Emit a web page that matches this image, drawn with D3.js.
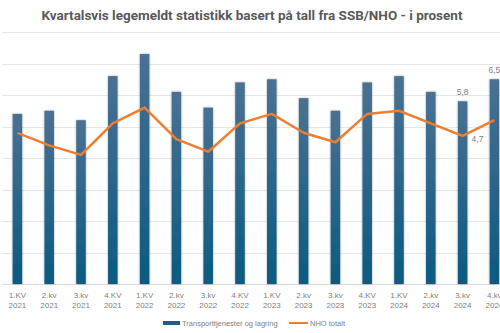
<!DOCTYPE html>
<html lang="no">
<head>
<meta charset="UTF-8">
<script src="https://cdn.jsdelivr.net/npm/d3@7"></script>
<style>
    body { margin: 0; background: #fff; }
    .title {
        font-family: "Liberation Sans Narrow", "Roboto", sans-serif;
        font-weight: 700;
        font-size: 13.5px;
        fill: #595959;
        text-anchor: middle;
    }
    .grid line { stroke: #e6e6e6; stroke-width: 1px; }
    .axis text, .legend text, .lbl {
        font-family: "Liberation Sans", Arial, sans-serif;
        fill: #808080;
    }
    .axis text { font-size: 8px; text-anchor: middle; }
    .legend text { font-size: 7.5px; }
    .lbl { font-size: 8.5px; }
</style>
</head>
<body>
<svg id="chart" width="500" height="333"></svg>
<script>
    // kvartaler
    const quarters = ["1.KV", "2.kv", "3.kv", "4.KV", "1.KV", "2.kv", "3.kv", "4.KV",
                      "1.KV", "2.kv", "3.kv", "4.KV", "1.KV", "2.kv", "3.kv", "4.kv"];
    const years = ["2021", "2021", "2021", "2021", "2022", "2022", "2022", "2022",
                   "2023", "2023", "2023", "2023", "2024", "2024", "2024", "2024"];
    // Transporttjenester og lagring (stolper)
    const transport = [5.4, 5.5, 5.2, 6.6, 7.3, 6.1, 5.6, 6.4,
                       6.5, 5.9, 5.5, 6.4, 6.6, 6.1, 5.8, 6.5];
    // NHO totalt (linje)
    const nho = [4.8, 4.4, 4.1, 5.1, 5.6, 4.6, 4.2, 5.1,
                 5.4, 4.8, 4.5, 5.4, 5.5, 5.1, 4.7, 5.2];
    const yTicks = [0, 1, 2, 3, 4, 5, 6, 7, 8];

    const svg = d3.select("#chart");
    const keys = quarters.map((q, i) => i);

    const x = d3.scaleBand().domain(keys).range([1.5, 510.3])
        .paddingInner(0.7).paddingOuter(0.35);
    const y = d3.scaleLinear().domain([0, 8]).range([284, 32]);

    // gradient for stolpene
    const defs = svg.append("defs");
    const grad = defs.append("linearGradient").attr("id", "barGrad")
        .attr("x1", 0).attr("y1", 0).attr("x2", 0).attr("y2", 1);
    grad.append("stop").attr("offset", "0%").attr("stop-color", "#4a7191");
    grad.append("stop").attr("offset", "100%").attr("stop-color", "#0a5a81");
    const shadow = defs.append("filter").attr("id", "shadow")
        .attr("x", "-50%").attr("y", "-5%").attr("width", "200%").attr("height", "110%");
    shadow.append("feDropShadow").attr("dx", 0).attr("dy", 0)
        .attr("stdDeviation", 0.9).attr("flood-color", "#000").attr("flood-opacity", 0.35);

    // rutenett
    svg.append("g").attr("class", "grid")
        .selectAll("line").data(yTicks).enter().append("line")
        .attr("x1", 2).attr("x2", 500)
        .attr("y1", d => Math.round(y(d)) + 0.5)
        .attr("y2", d => Math.round(y(d)) + 0.5)
        .style("stroke", d => d === 0 ? "#d9d9d9" : null);

    // tittel
    svg.append("text").attr("class", "title")
        .attr("x", 252).attr("y", 20)
        .text("Kvartalsvis legemeldt statistikk basert på tall fra SSB/NHO - i prosent");

    // stolper
    svg.append("g").selectAll("rect").data(transport).enter().append("rect")
        .attr("x", (d, i) => x(i))
        .attr("width", x.bandwidth())
        .attr("y", d => y(d))
        .attr("height", d => y(0) - y(d))
        .attr("fill", "url(#barGrad)")
        .attr("filter", "url(#shadow)");

    // linje
    const line = d3.line()
        .x((d, i) => x(i) + x.bandwidth() / 2)
        .y(d => y(d));
    svg.append("path").datum(nho)
        .attr("d", line)
        .attr("fill", "none")
        .attr("stroke", "#ed7d31")
        .attr("stroke-width", 2.5)
        .attr("stroke-linejoin", "round");

    // dataetiketter
    const cx = i => x(i) + x.bandwidth() / 2;
    const fmt = v => d3.format(".1f")(v).replace(".", ",");
    svg.append("text").attr("class", "lbl").attr("text-anchor", "middle")
        .attr("x", cx(14)).attr("y", y(transport[14]) - 6)
        .text(fmt(transport[14]));
    svg.append("text").attr("class", "lbl").attr("text-anchor", "middle")
        .attr("x", cx(15)).attr("y", y(transport[15]) - 6)
        .text(fmt(transport[15]));
    svg.append("text").attr("class", "lbl").attr("text-anchor", "start")
        .attr("x", cx(14) + 9).attr("y", y(nho[14]) + 6)
        .text(fmt(nho[14]));

    // x-akse
    const axis = svg.append("g").attr("class", "axis");
    const ticks = axis.selectAll("g").data(keys).enter().append("g")
        .attr("transform", i => "translate(" + cx(i) + ",0)");
    ticks.append("text").attr("y", 298).text(i => quarters[i]);
    ticks.append("text").attr("y", 308).text(i => years[i]);

    // forklaring
    const legend = svg.append("g").attr("class", "legend");
    legend.append("rect").attr("x", 163).attr("y", 321).attr("width", 17).attr("height", 4)
        .attr("fill", "#1f5f82");
    legend.append("text").attr("x", 182).attr("y", 326).text("Transporttjenester og lagring");
    legend.append("line").attr("x1", 289).attr("x2", 308).attr("y1", 323).attr("y2", 323)
        .attr("stroke", "#ed7d31").attr("stroke-width", 2);
    legend.append("text").attr("x", 310).attr("y", 326).text("NHO totalt");
</script>
</body>
</html>
